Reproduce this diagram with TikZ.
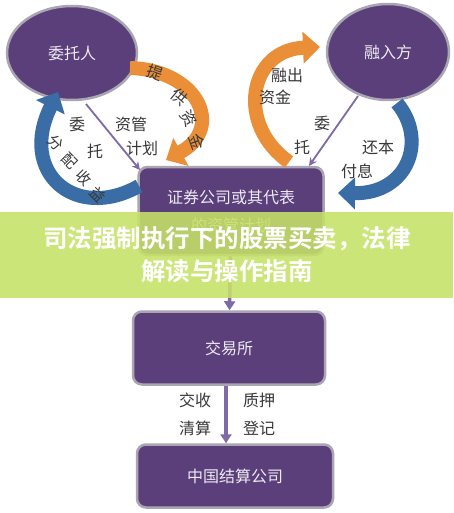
\documentclass[tikz,border=0pt]{standalone}
\usepackage{fontspec}
\usepackage{xcolor}
\usepackage{tikz}
\usetikzlibrary{shapes.geometric,arrows.meta}
\newfontfamily\cjk{Noto Sans CJK SC}
\newfontfamily\cjkbf{Noto Sans CJK SC Bold}
\definecolor{nodepurple}{HTML}{5B3F7B}
\definecolor{rimgrey}{HTML}{A9A5B2}
\definecolor{flowblue}{HTML}{3A6DA5}
\definecolor{floworange}{HTML}{EA8F38}
\definecolor{linkpurple}{HTML}{7E6AA8}
\definecolor{labelgrey}{HTML}{383838}
\definecolor{bannergreen}{HTML}{C6E267}
\definecolor{nodetext}{HTML}{EEEAF2}

\tikzset{
    party/.style={draw=rimgrey,line width=2.5pt,fill=nodepurple,ellipse,text=nodetext,
        font=\cjk\fontsize{16}{18}\selectfont},
    stage/.style={draw=rimgrey,line width=2.5pt,fill=nodepurple,rounded corners=9pt,
        text=nodetext,font=\cjk\fontsize{16}{28}\selectfont,align=center},
    lbl/.style={text=labelgrey,font=\cjk\fontsize{16}{18}\selectfont,inner sep=0pt},
    band/.style={line width=14pt,-{Triangle[width=31pt,length=17pt]}},
    link/.style={draw=linkpurple,line width=1.8pt,-{Stealth[length=8pt,width=8pt]}},
    drop/.style={draw=linkpurple,line width=3.5pt,-{Triangle[length=9pt,width=11pt]}},
}

\begin{document}
\begin{tikzpicture}[x=1pt,y=-1pt]
    \useasboundingbox (0,0) rectangle (453,513);
    \fill[white] (0,0) rectangle (453,513);

    % parties
    \node[party,minimum width=130pt,minimum height=94pt] (wtr) at (72,53) {委托人};
    \node[party,minimum width=122pt,minimum height=96pt] (rrf) at (388,52) {融入方};

    % stages
    \node[stage,minimum width=185pt,minimum height=88pt] (zq) at (231,211) {证券公司或其代表\\的资管计划};
    \node[stage,minimum width=192pt,minimum height=73pt] (jys) at (229,348) {交易所};
    \node[stage,minimum width=196pt,minimum height=63pt] (zj) at (235,476) {中国结算公司};

    % end points of the wide flows
    \coordinate (o1s) at (130,68);
    \coordinate (o1e) at (166,160);
    \coordinate (o2s) at (289,162);
    \coordinate (o2e) at (320,47);
    \coordinate (b1s) at (397,103);
    \coordinate (b1e) at (338,193);
    \coordinate (b2s) at (139,186);
    \coordinate (b2e) at (58,92);

    \draw[band,floworange] (o1s) .. controls (198,70) and (225,128) .. (o1e);
    \draw[band,floworange] (o2s) .. controls (236,125) and (248,50) .. (o2e);
    \draw[band,flowblue] (b1s) .. controls (428,140) and (408,194) .. (b1e);
    \draw[band,flowblue] (b2s) .. controls (75,222) and (18,172) .. (b2e);

    % thin links
    \coordinate (l1s) at (86,104);
    \coordinate (l1e) at (140,170);
    \coordinate (l2s) at (358,96);
    \coordinate (l2e) at (309,166);
    \draw[link] (l1s) -- (l1e);
    \draw[link] (l2s) -- (l2e);
    \draw[drop] (zq) -- (jys);
    \draw[drop] (jys.south-|226,0) -- (zj.north-|226,0);

    % labels
    \node[lbl] (t1) at (77,124) {委};
    \node[lbl] (t2) at (95,151) {托};
    \node[lbl] (t3) at (131,124) {资管};
    \node[lbl] (t4) at (142,148) {计划};
    \node[lbl,rotate=-20] (t5) at (155,73) {提};
    \node[lbl,rotate=-40] (t6) at (180,97) {供};
    \node[lbl,rotate=-60] (t7) at (189,118) {资};
    \node[lbl,rotate=-70] (t8) at (197,142) {金};
    \node[lbl,rotate=-45,font=\cjk\fontsize{15}{17}\selectfont] (t9) at (56,143) {分};
    \node[lbl,rotate=-45,font=\cjk\fontsize{15}{17}\selectfont] (t10) at (70,161) {配};
    \node[lbl,rotate=-45,font=\cjk\fontsize{15}{17}\selectfont] (t11) at (84,178) {收};
    \node[lbl,rotate=-45,font=\cjk\fontsize{15}{17}\selectfont] (t12) at (98,195) {益};
    \node[lbl] (t13) at (287,75) {融出};
    \node[lbl] (t14) at (275,97) {资金};
    \node[lbl] (t15) at (322,123) {委};
    \node[lbl] (t16) at (302,147) {托};
    \node[lbl] (t17) at (378,147) {还本};
    \node[lbl] (t18) at (357,171) {付息};
    \node[lbl] (t19) at (195,400) {交收};
    \node[lbl] (t20) at (195,428) {清算};
    \node[lbl] (t21) at (259,400) {质押};
    \node[lbl] (t22) at (259,428) {登记};

    % banner
    \fill[bannergreen,opacity=0.88] (0,212) rectangle (453,298);
    \node[text=white,font=\cjkbf\fontsize{24.5}{26}\selectfont] (hd1) at (227,239) {司法强制执行下的股票买卖，法律};
    \node[text=white,font=\cjkbf\fontsize{24.5}{26}\selectfont] (hd2) at (227,271) {解读与操作指南};
\end{tikzpicture}
\end{document}
